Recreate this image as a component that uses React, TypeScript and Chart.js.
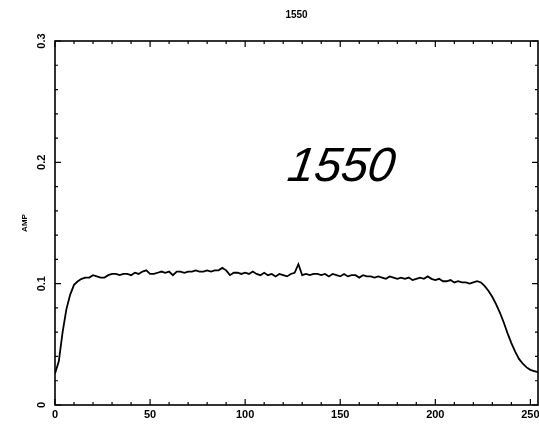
import React, { useEffect, useRef } from "react";
import { Chart, registerables } from "chart.js";

Chart.register(...registerables);

const TITLE = "1550";
const Y_LABEL = "AMP";
const NOTE = "1550";
const X_TICKS = [0, 50, 100, 150, 200, 250];
const Y_TICKS = [0, 0.1, 0.2, 0.3];
const Y_TICK_LABELS = ["0", "0.1", "0.2", "0.3"];

const xs = [
  0, 2, 4, 6, 8, 10, 12, 14, 16, 18, 20, 22, 24, 26, 28, 30, 32, 34, 36, 38,
  40, 42, 44, 46, 48, 50, 52, 54, 56, 58, 60, 62, 64, 66, 68, 70, 72, 74, 76, 78,
  80, 82, 84, 86, 88, 90, 92, 94, 96, 98, 100, 102, 104, 106, 108, 110, 112, 114, 116, 118,
  120, 122, 124, 126, 128, 130, 132, 134, 136, 138, 140, 142, 144, 146, 148, 150, 152, 154, 156, 158,
  160, 162, 164, 166, 168, 170, 172, 174, 176, 178, 180, 182, 184, 186, 188, 190, 192, 194, 196, 198,
  200, 202, 204, 206, 208, 210, 212, 214, 216, 218, 220, 222, 224, 226, 228, 230, 232, 234, 236, 238,
  240, 242, 244, 246, 248, 250, 252, 254,
];

const amp = [
  0.026, 0.036, 0.060, 0.079, 0.091, 0.099, 0.102, 0.104, 0.105, 0.105,
  0.107, 0.106, 0.105, 0.105, 0.107, 0.108, 0.108, 0.107, 0.108, 0.108,
  0.107, 0.109, 0.108, 0.110, 0.111, 0.108, 0.108, 0.109, 0.110, 0.109,
  0.110, 0.107, 0.110, 0.110, 0.109, 0.110, 0.110, 0.111, 0.110, 0.110,
  0.111, 0.110, 0.111, 0.111, 0.113, 0.111, 0.107, 0.109, 0.109, 0.108,
  0.109, 0.108, 0.110, 0.108, 0.107, 0.109, 0.107, 0.108, 0.106, 0.108,
  0.107, 0.106, 0.108, 0.109, 0.116, 0.107, 0.108, 0.107, 0.108, 0.108,
  0.107, 0.108, 0.106, 0.108, 0.107, 0.106, 0.108, 0.106, 0.107, 0.107,
  0.105, 0.107, 0.106, 0.106, 0.105, 0.106, 0.105, 0.104, 0.106, 0.105,
  0.104, 0.105, 0.104, 0.105, 0.103, 0.104, 0.105, 0.104, 0.106, 0.104,
  0.103, 0.104, 0.102, 0.102, 0.103, 0.101, 0.102, 0.101, 0.101, 0.100,
  0.101, 0.102, 0.101, 0.098, 0.094, 0.089, 0.083, 0.076, 0.068, 0.059,
  0.051, 0.044, 0.038, 0.034, 0.031, 0.029, 0.028, 0.027,
];

const X_MIN = 0;
const X_MAX = 254;
const Y_MIN = 0;
const Y_MAX = 0.3;

const framePlugin = {
  id: "framePlugin",
  afterDraw(chart: any) {
    const { ctx, chartArea } = chart;
    const sx = chart.scales.x;
    const sy = chart.scales.y;
    const { left, right, top, bottom } = chartArea;
    ctx.save();
    ctx.strokeStyle = "#000";
    ctx.fillStyle = "#000";
    ctx.lineWidth = 1.6;
    ctx.strokeRect(left, top, right - left, bottom - top);

    ctx.lineWidth = 1.2;
    ctx.beginPath();
    for (let v = 0; v <= X_MAX; v += 10) {
      const p = sx.getPixelForValue(v);
      const len = v % 50 === 0 ? 6 : 3;
      ctx.moveTo(p, bottom);
      ctx.lineTo(p, bottom - len);
      ctx.moveTo(p, top);
      ctx.lineTo(p, top + len);
    }
    for (let i = 0; i <= 15; i++) {
      const v = i * 0.02;
      const p = sy.getPixelForValue(v);
      const len = i % 5 === 0 ? 6 : 3;
      ctx.moveTo(left, p);
      ctx.lineTo(left + len, p);
      ctx.moveTo(right, p);
      ctx.lineTo(right - len, p);
    }
    ctx.stroke();

    ctx.font = "bold 11px 'Liberation Sans', Arial, sans-serif";
    ctx.textAlign = "center";
    ctx.textBaseline = "middle";
    X_TICKS.forEach((v) => {
      ctx.fillText(String(v), sx.getPixelForValue(v), 415);
    });

    Y_TICKS.forEach((v, i) => {
      ctx.save();
      ctx.translate(42, sy.getPixelForValue(v));
      ctx.rotate(-Math.PI / 2);
      ctx.fillText(Y_TICK_LABELS[i], 0, 0);
      ctx.restore();
    });

    ctx.save();
    ctx.font = "bold 8px 'Liberation Sans', Arial, sans-serif";
    ctx.translate(25, 223);
    ctx.rotate(-Math.PI / 2);
    ctx.fillText(Y_LABEL, 0, 0);
    ctx.restore();

    ctx.font = "bold 10px 'Liberation Sans', Arial, sans-serif";
    ctx.fillText(TITLE, (left + right) / 2, 15);

    ctx.save();
    ctx.translate(286, 181);
    ctx.transform(1, 0, -0.15, 1, 0, 0);
    ctx.font = "italic 48px 'Liberation Sans Narrow', 'Liberation Sans', sans-serif";
    ctx.textAlign = "left";
    ctx.textBaseline = "alphabetic";
    ctx.fillText(NOTE, 0, 0);
    ctx.restore();
    ctx.restore();
  },
};

export default function App() {
  const ref = useRef<HTMLCanvasElement | null>(null);
  useEffect(() => {
    if (!ref.current) return;
    const chart = new Chart(ref.current, {
      type: "line",
      data: {
        datasets: [
          {
            data: xs.map((x, i) => ({ x, y: amp[i] })),
            borderColor: "#000",
            borderWidth: 1.8,
            pointRadius: 0,
            tension: 0,
            fill: false,
          },
        ],
      },
      options: {
        responsive: false,
        animation: false,
        layout: { padding: { left: 55, top: 41, right: 1, bottom: 22 } },
        plugins: { legend: { display: false }, tooltip: { enabled: false }, title: { display: false } },
        scales: {
          x: { type: "linear", min: X_MIN, max: X_MAX, display: false },
          y: { type: "linear", min: Y_MIN, max: Y_MAX, display: false },
        },
      },
      plugins: [framePlugin],
    });
    return () => chart.destroy();
  }, []);
  return (
    <canvas
      ref={ref}
      width={539}
      height={427}
      style={{ position: "absolute", left: 0, top: 0, background: "#fff" }}
    />
  );
}
